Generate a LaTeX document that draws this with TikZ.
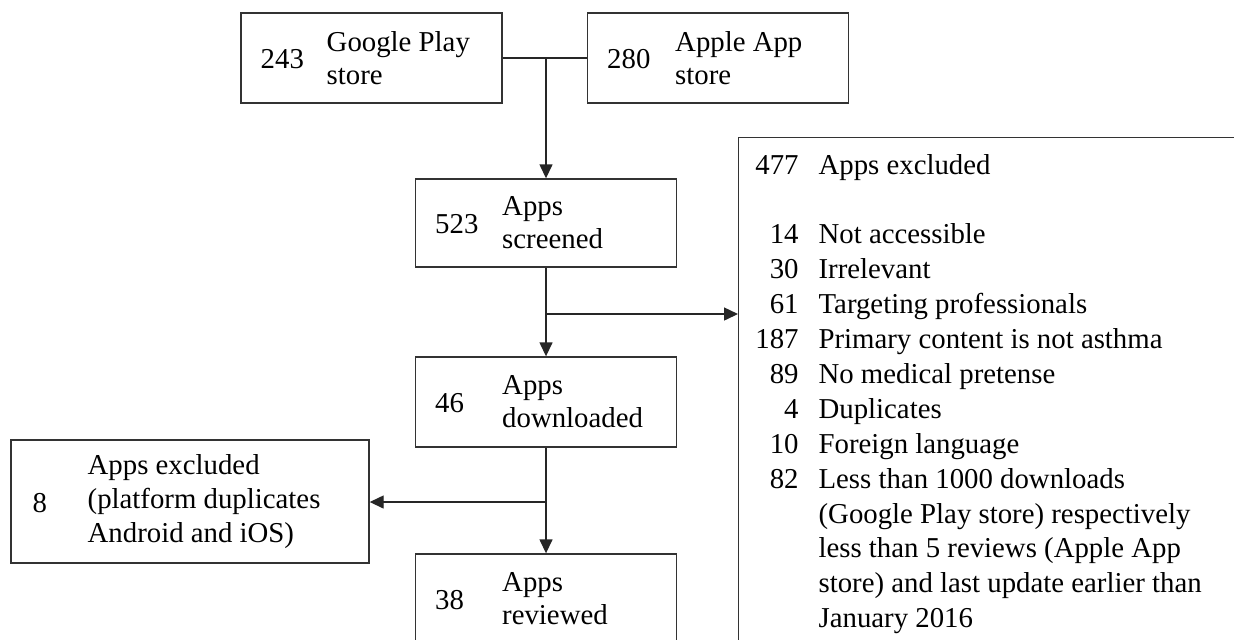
\documentclass[tikz,border=0pt]{standalone}
\usepackage{fontspec}
\setmainfont{Liberation Serif}
\usetikzlibrary{arrows.meta,calc}

\tikzset{
  box/.style={draw=black!80, line width=0.7pt, minimum width=130.5pt, minimum height=45pt, inner sep=0pt},
  num/.style={anchor=west, inner sep=0pt},
  lbl/.style={anchor=west, inner sep=0pt, align=left},
  flow/.style={draw=black!85, line width=0.7pt},
  tip/.style={-{Triangle[length=7pt,width=6.5pt]}},
}

\begin{document}
\begin{tikzpicture}[x=0.5pt, y=-0.5pt, font=\fontsize{14.4}{16.5}\selectfont]
  \useasboundingbox (0,0) rectangle (1234,639);
  \clip (0,0) rectangle (1234,639);
  \fill[white] (0,0) rectangle (1234,639);

  % stores
  \node[box] (gp) at (371.5,58) {};
  \node[box] (ap) at (718,58) {};
  \node[num] at ($(gp.west)+(20,1)$) {243};
  \node[lbl] at ($(gp.west)+(86,0)$) {Google Play\\store};
  \node[num] at ($(ap.west)+(20,1)$) {280};
  \node[lbl] at ($(ap.west)+(88,0)$) {Apple App\\store};

  % main column
  \node[box, minimum height=44pt] (scr) at (546,223) {};
  \node[box] (dl) at (546,402) {};
  \node[box] (rev) at (546,599) {};
  \node[num] at ($(scr.west)+(20,1)$) {523};
  \node[lbl] at ($(scr.west)+(87,0)$) {Apps\\screened};
  \node[num] at ($(dl.west)+(20,1)$) {46};
  \node[lbl] at ($(dl.west)+(87,0)$) {Apps\\downloaded};
  \node[num] at ($(rev.west)+(20,1)$) {38};
  \node[lbl] at ($(rev.west)+(87,0)$) {Apps\\reviewed};

  % exclusions
  \node[box, minimum width=179pt, minimum height=61.5pt] (ex8) at (190,501.5) {};
  \node[num] at ($(ex8.west)+(22,2)$) {8};
  \node[lbl, font=\fontsize{14.4}{17.2}\selectfont] at ($(ex8.west)+(77,0)$)
    {Apps excluded\\(platform duplicates\\Android and iOS)};

  \node[box, minimum width=280pt, minimum height=280pt, anchor=north west] (exc) at (738,137) {};
  \node[inner sep=0pt, anchor=base west, font=\fontsize{14.4}{17.45}\selectfont]
    (reasons) at ($(exc.north west)+(17,37)$) {%
    \begin{tabular}[t]{@{}r@{\hspace{10pt}}l@{}}
      477 & Apps excluded\\
          & \\
      14  & Not accessible\\
      30  & Irrelevant\\
      61  & Targeting professionals\\
      187 & Primary content is not asthma\\
      89  & No medical pretense\\
      4   & Duplicates\\
      10  & Foreign language\\
      82  & Less than 1000 downloads\\
          & (Google Play store) respectively\\
          & less than 5 reviews (Apple App\\
          & store) and last update earlier than\\
          & January 2016
    \end{tabular}};

  % connectors
  \coordinate (j1) at (546,58);
  \coordinate (j2) at (546,314);
  \coordinate (j3) at (546,502);
  \draw[flow] (gp.east) -- (ap.west);
  \draw[flow, tip] (j1) -- (j1 |- scr.north);
  \draw[flow, tip] (scr.south) -- (dl.north);
  \draw[flow, tip] (j2) -- (j2 -| exc.west);
  \draw[flow, tip] (dl.south) -- (rev.north);
  \draw[flow, tip] (j3) -- (j3 -| ex8.east);
\end{tikzpicture}
\end{document}
